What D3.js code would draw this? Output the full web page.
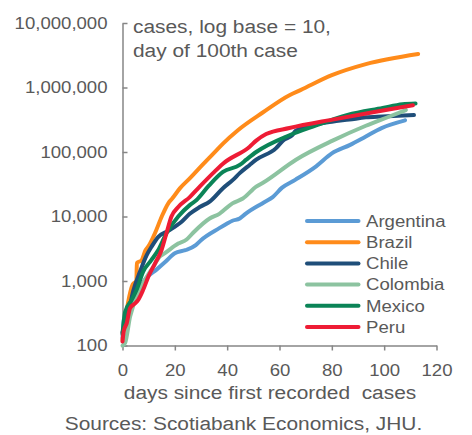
<!DOCTYPE html>
<html>
<head>
<meta charset="utf-8">
<script src="https://cdn.jsdelivr.net/npm/d3@7"></script>
<style>
  body { margin: 0; background: #fff; }
  svg { display: block; font-family: "Liberation Sans", Arial, sans-serif; }
  text { fill: #595959; }
</style>
</head>
<body>
<svg id="chart" width="472" height="435"></svg>
<script>
// cases by day since the 100th case: [day, cases]
var argentina = [[0,130],[0.5,250],[3,400],[6,700],[9,1100],[13,1500],[16.5,2000],[20,2700],[24,3000],[28,3600],[30,4300],[37,6600],[40,7800],[42,8600],[44.8,9300],[47,11000],[54,16500],[57.4,20000],[61,28000],[66,37000],[74,60000],[80,95000],[87,129000],[93,174000],[99,235000],[108,310000]];
var brazil = [[0,120],[1.6,350],[4,900],[5.3,1000],[5.5,1900],[7.3,2100],[8.8,3000],[10,3500],[12.4,5500],[15,10000],[17.5,16000],[19,19000],[22,27500],[25.7,39000],[31,66000],[36,107000],[38.4,135000],[44.1,218000],[53.6,410000],[63.8,760000],[68,910000],[80,1550000],[93,2300000],[113,3300000]];
var chile = [[0,160],[2.2,315],[4.1,700],[6.7,1400],[9.2,2500],[11.1,3400],[13.6,4800],[17.5,6000],[22.6,8300],[25.7,11000],[29.5,14000],[33.3,17000],[38.4,27500],[42.2,37000],[44.8,47000],[48.6,63000],[51.1,76000],[58.7,115000],[61.3,150000],[65,185000],[66.3,215000],[80,295000],[86.7,318000],[93,345000],[99.4,355000],[111.4,375000]];
var colombia = [[0,100],[1,110],[2.9,280],[6.7,730],[7.9,920],[11.7,1650],[14.3,2400],[16.2,2700],[21.3,3800],[24.5,4400],[27,5600],[33.3,9300],[37,11000],[42,16000],[46,19000],[51.1,29000],[54,34000],[66.3,76000],[80.3,150000],[93,255000],[102,355000],[108.3,447000]];
var mexico = [[0,150],[1,330],[3.5,510],[5.4,730],[7.9,1400],[11,2100],[13.6,3000],[16.8,5500],[21.3,10000],[25.7,15000],[28.3,18000],[33,30000],[38.4,49000],[44.8,63000],[47.3,76000],[51.1,100000],[63.8,182000],[73,250000],[86,375000],[99.4,480000],[107,550000],[112,565000]];
var peru = [[0,115],[0.5,170],[1.6,220],[2.9,380],[4.8,450],[6,510],[7.9,730],[10,1200],[12.4,1860],[14.9,3000],[16.8,5500],[18.7,10000],[21.3,14000],[25.7,20000],[29.5,29000],[34.6,47000],[38.4,66000],[48.6,121000],[51.1,150000],[54.9,190000],[63.8,235000],[80.3,318000],[96.8,420000],[111,530000]];

var countries = ["Argentina", "Brazil", "Chile", "Colombia", "Mexico", "Peru"];
var seriesData = [argentina, brazil, chile, colombia, mexico, peru];
var colors = ["#5b9bd5", "#ff8b1a", "#1f4e79", "#8cc3a0", "#0b8457", "#ee1c35"];
var yTicks = [100, 1000, 10000, 100000, 1000000, 10000000];
var xTicks = [0, 20, 40, 60, 80, 100, 120];

var svg = d3.select("#chart");

var x = d3.scaleLinear().domain([0, 120]).range([122.5, 436.5]);
var y = d3.scaleLog().domain([100, 10000000]).range([345.5, 23]);

// axes
var yAxis = svg.append("g")
    .attr("transform", "translate(" + x(0) + ",0)")
    .call(d3.axisLeft(y).tickValues(yTicks).tickFormat(d3.format(","))
        .tickSizeInner(-5).tickSizeOuter(0).tickPadding(15));

var xAxis = svg.append("g")
    .attr("transform", "translate(0," + y(100) + ")")
    .call(d3.axisBottom(x).tickValues(xTicks).tickSizeInner(5).tickSizeOuter(0).tickPadding(14.5));

svg.selectAll(".domain, .tick line").attr("stroke", "#868686").attr("stroke-width", 1.5);
svg.selectAll(".tick text").attr("fill", "#595959")
    .style("font-size", "16px").style("font-family", '"Liberation Sans", Arial, sans-serif');

// lines
var line = d3.line()
    .curve(d3.curveMonotoneX)
    .x(function (d) { return x(d[0]); })
    .y(function (d) { return y(d[1]); });

svg.append("g").selectAll("path")
    .data(seriesData)
    .enter()
    .append("path")
    .attr("fill", "none")
    .attr("stroke", function (d, i) { return colors[i]; })
    .attr("stroke-width", 4)
    .attr("stroke-linejoin", "round")
    .attr("stroke-linecap", "round")
    .attr("d", line);

// title inside the plot
svg.append("text").attr("x", 133).attr("y", 33).style("font-size", "18px").text("cases, log base = 10,");
svg.append("text").attr("x", 133).attr("y", 57).style("font-size", "18px").text("day of 100th case");

// legend
var legend = svg.append("g").selectAll("g")
    .data(countries)
    .enter()
    .append("g")
    .attr("transform", function (d, i) { return "translate(0," + (221 + i * 21.2) + ")"; });

legend.append("line")
    .attr("x1", 307).attr("x2", 358.5)
    .attr("stroke", function (d, i) { return colors[i]; })
    .attr("stroke-width", 4)
    .attr("stroke-linecap", "round");

legend.append("text")
    .attr("x", 366).attr("y", 5.7)
    .style("font-size", "16px")
    .text(function (d) { return d; });

// axis title and source
svg.append("text").attr("x", 270).attr("y", 399).attr("text-anchor", "middle")
    .style("font-size", "18px").style("white-space", "pre")
    .text("days since first recorded  cases");
svg.append("text").attr("x", 243.5).attr("y", 430).attr("text-anchor", "middle")
    .style("font-size", "18px").text("Sources: Scotiabank Economics, JHU.");

// the reference text is a bit wider than plain Arial, stretch it horizontally
svg.selectAll("text").each(function () {
    var w = this.getComputedTextLength();
    this.setAttribute("textLength", w * 1.16);
    this.setAttribute("lengthAdjust", "spacingAndGlyphs");
});
</script>
</body>
</html>
